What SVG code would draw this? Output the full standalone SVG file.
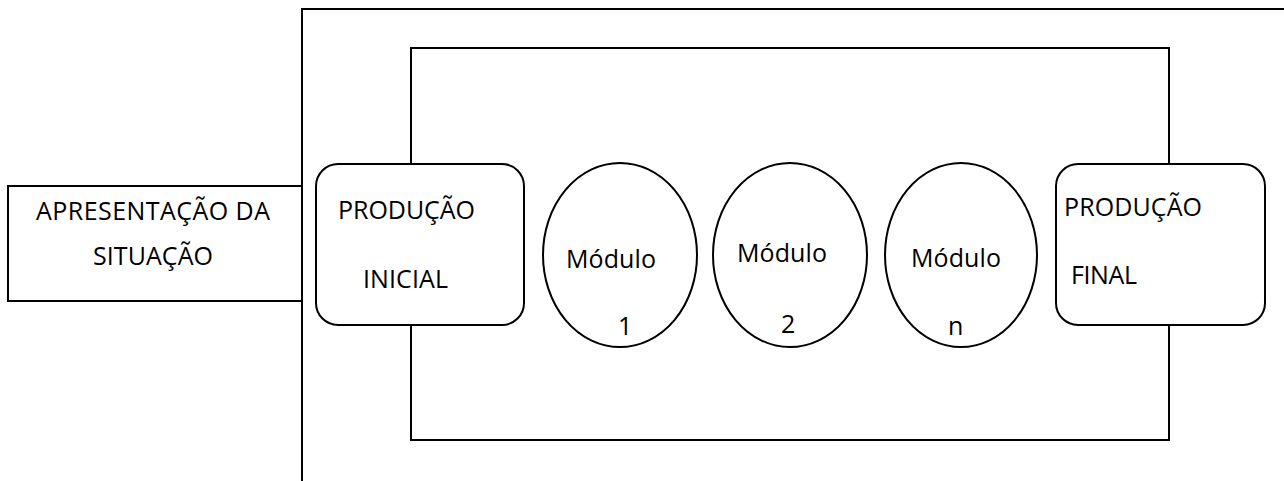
<svg xmlns="http://www.w3.org/2000/svg" width="1284" height="481" viewBox="0 0 1284 481">
<style>
.s{fill:#fff;stroke:#000;stroke-width:2}
.c{fill:none;stroke:#000;stroke-width:2}
.t{font-family:"Open Sans","Liberation Sans",sans-serif;font-size:25px;fill:#000}
</style>
<rect width="1284" height="481" fill="#fff"/>
<g id="connectors">
<polyline class="c" points="302,481 302,9 1284,9"/>
<polyline class="c" points="411,164 411,48 1169,48 1169,164"/>
<polyline class="c" points="411,325 411,440 1169,440 1169,325"/>
</g>
<g id="apresentacao">
<rect class="s" x="8" y="186" width="294" height="115"/>
<text class="t" x="153" y="220" text-anchor="middle" textLength="234">APRESENTAÇÃO DA</text>
<text class="t" x="153" y="265" text-anchor="middle" textLength="120">SITUAÇÃO</text>
</g>
<g id="producao-inicial">
<rect class="s" x="316" y="164" width="208" height="161" rx="22"/>
<text class="t" x="338" y="219" textLength="137">PRODUÇÃO</text>
<text class="t" x="363" y="288" textLength="85">INICIAL</text>
</g>
<g id="modulo-1">
<ellipse class="s" cx="620" cy="255" rx="77" ry="92"/>
<text class="t" x="566" y="268" textLength="90">Módulo</text>
<text class="t" x="618" y="335">1</text>
</g>
<g id="modulo-2">
<ellipse class="s" cx="790" cy="255" rx="77" ry="92"/>
<text class="t" x="737" y="262" textLength="90">Módulo</text>
<text class="t" x="781" y="333">2</text>
</g>
<g id="modulo-n">
<ellipse class="s" cx="961" cy="255" rx="76" ry="92"/>
<text class="t" x="911" y="267" textLength="90">Módulo</text>
<text class="t" x="948" y="335">n</text>
</g>
<g id="producao-final">
<rect class="s" x="1056" y="164" width="209" height="161" rx="22"/>
<text class="t" x="1064" y="216" textLength="138">PRODUÇÃO</text>
<text class="t" x="1071" y="284" textLength="66">FINAL</text>
</g>
</svg>
